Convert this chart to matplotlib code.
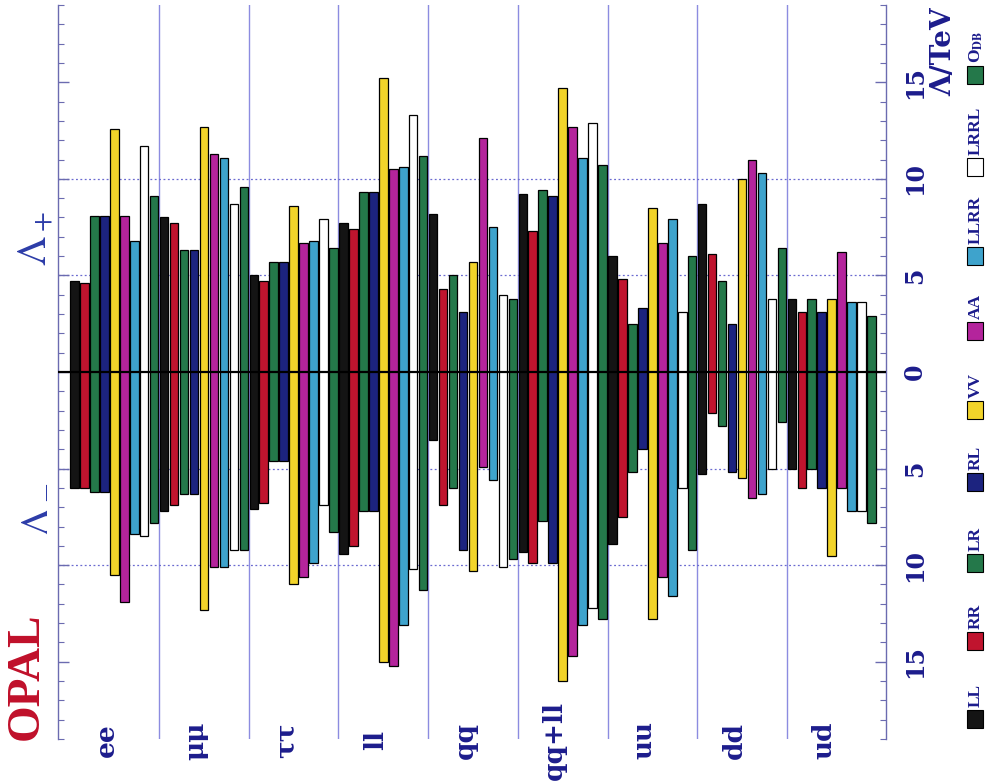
import matplotlib
matplotlib.use("Agg")
import matplotlib.pyplot as plt
import numpy as np
from matplotlib.patches import Rectangle
from matplotlib.ticker import MultipleLocator, FuncFormatter
from matplotlib.transforms import blended_transform_factory

plt.rcParams["mathtext.fontset"] = "stix"

# Channels (one group of bars each) and contact-interaction models
channels = ["ee", "μμ", "ττ", "ll", "qq", "qq+ll", "uu", "dd", "ud"]
models = ["LL", "RR", "LR", "RL", "VV", "AA", "LLRR", "LRRL", "O_DB"]
model_labels = ["LL", "RR", "LR", "RL", "VV", "AA", "LLRR", "LRRL", r"O$_{\mathbf{DB}}$"]

# Lower limits on Lambda+ (TeV), per model, in channel order
plus_LL   = [4.7, 8.0, 5.0, 7.7, 8.2, 9.2, 6.0, 8.7, 3.8]
plus_RR   = [4.6, 7.7, 4.7, 7.4, 4.3, 7.3, 4.8, 6.1, 3.1]
plus_LR   = [8.1, 6.3, 5.7, 9.3, 5.0, 9.4, 2.5, 4.7, 3.8]
plus_RL   = [8.1, 6.3, 5.7, 9.3, 3.1, 9.1, 3.3, 2.5, 3.1]
plus_VV   = [12.6, 12.7, 8.6, 15.2, 5.7, 14.7, 8.5, 10.0, 3.8]
plus_AA   = [8.1, 11.3, 6.7, 10.5, 12.1, 12.7, 6.7, 11.0, 6.2]
plus_LLRR = [6.8, 11.1, 6.8, 10.6, 7.5, 11.1, 7.9, 10.3, 3.6]
plus_LRRL = [11.7, 8.7, 7.9, 13.3, 4.0, 12.9, 3.1, 3.8, 3.6]
plus_ODB  = [9.1, 9.6, 6.4, 11.2, 3.8, 10.7, 6.0, 6.4, 2.9]

# Lower limits on Lambda- (TeV), per model, in channel order
minus_LL   = [6.0, 7.2, 7.1, 9.4, 3.5, 9.3, 8.9, 5.3, 5.0]
minus_RR   = [6.0, 6.9, 6.8, 9.0, 6.9, 9.9, 7.5, 2.1, 6.0]
minus_LR   = [6.2, 6.3, 4.6, 7.2, 6.0, 7.7, 5.2, 2.8, 5.0]
minus_RL   = [6.2, 6.3, 4.6, 7.2, 9.2, 9.9, 4.0, 5.2, 6.0]
minus_VV   = [10.5, 12.3, 11.0, 15.0, 10.3, 16.0, 12.8, 5.5, 9.5]
minus_AA   = [11.9, 10.1, 10.6, 15.2, 4.9, 14.7, 10.6, 6.5, 6.0]
minus_LLRR = [8.4, 10.1, 9.9, 13.1, 5.6, 13.1, 11.6, 6.3, 7.2]
minus_LRRL = [8.5, 9.2, 6.9, 10.2, 10.1, 12.2, 6.0, 5.0, 7.2]
minus_ODB  = [7.8, 9.2, 8.3, 11.3, 9.7, 12.8, 9.2, 2.6, 7.8]

plus_all = [plus_LL, plus_RR, plus_LR, plus_RL, plus_VV, plus_AA, plus_LLRR, plus_LRRL, plus_ODB]
minus_all = [minus_LL, minus_RR, minus_LR, minus_RL, minus_VV, minus_AA, minus_LLRR, minus_LRRL, minus_ODB]

colors = ["#141414", "#c0142e", "#24784a", "#1c237f", "#f2d42a",
          "#b4249c", "#3ea3cc", "#ffffff", "#24784a"]

text_blue = "#1c1c8c"
axis_col = "#6b6bb0"

W, H = 995, 782
fig = plt.figure(figsize=(W / 100, H / 100), dpi=100)


def fx(px):
    return px / W


def fy(py):
    return 1 - py / H


ax = fig.add_axes([fx(58), fy(739), fx(886) - fx(58), fy(5) - fy(739)])

n_ch = len(channels)
n_m = len(models)
ax.set_xlim(-1.15, n_ch * n_m + 0.95)
ax.set_ylim(-19, 19)

for j in range(n_m):
    x = np.arange(n_ch) * n_m + j + 0.5
    p = np.array(plus_all[j])
    m = np.array(minus_all[j])
    ax.bar(x, p + m, bottom=-m, width=0.86, color=colors[j],
           edgecolor="black", linewidth=0.9, zorder=3)

# group separators
for k in range(1, n_ch):
    ax.axvline(k * n_m, color="#8c8ce0", lw=1.0, zorder=1)

# reference lines
for v in (-10, -5, 5, 10):
    ax.axhline(v, color="#6a6ad0", lw=0.9, ls=(0, (1.5, 2)), zorder=1)
ax.axhline(0, color="black", lw=1.6, zorder=4)

# frame and ticks
for s in ("top", "bottom"):
    ax.spines[s].set_visible(False)
for s in ("left", "right"):
    ax.spines[s].set_color(axis_col)
    ax.spines[s].set_linewidth(1.0)

ax.set_xticks([])
ax.yaxis.set_major_locator(MultipleLocator(5))
ax.yaxis.set_minor_locator(MultipleLocator(1))
ax.yaxis.set_major_formatter(FuncFormatter(lambda v, pos: f"{abs(v):.0f}"))
ax.tick_params(axis="y", which="both", direction="in", left=True, right=True,
               labelleft=False, labelright=True, color=axis_col)
ax.tick_params(axis="y", which="major", length=8, width=1.0, pad=12,
               labelsize=17, labelcolor=text_blue, labelrotation=90)
ax.tick_params(axis="y", which="minor", length=4, width=0.8)
for t in ax.get_yticklabels():
    t.set_fontfamily("DejaVu Serif")
    t.set_fontweight("bold")
    t.set_va("center")

# channel names under each group
trans = blended_transform_factory(ax.transData, ax.transAxes)
for k, ch in enumerate(channels):
    ax.text(k * n_m + n_m / 2 - 0.8, -0.002, ch, transform=trans, rotation=90,
            ha="center", va="center", fontsize=19, color=text_blue,
            fontfamily="DejaVu Serif", fontweight="bold", clip_on=False)

# side annotations
fig.text(fx(35), fy(239), r"$\Lambda_+$", rotation=90, ha="center", va="center",
         fontsize=30, color="#2c3ca8")
fig.text(fx(33), fy(510), r"$\Lambda_-$", rotation=90, ha="center", va="center",
         fontsize=30, color="#2c3ca8")
fig.text(fx(27), fy(676), "OPAL", rotation=90, ha="center", va="center",
         fontsize=34, color="#c0102a", fontfamily="Liberation Serif", fontweight="bold")
fig.text(fx(944), fy(52), "Λ/TeV", rotation=90, ha="center", va="center",
         fontsize=20, color=text_blue, fontfamily="DejaVu Serif", fontweight="bold")

# legend: rotated column of swatches and names
swatch_centres = [719, 641, 563, 482, 410, 331, 256, 167, 75]
sw_w, sw_h = 16, 18
for lab, col, yc in zip(model_labels, colors, swatch_centres):
    fig.patches.append(Rectangle((fx(975 - sw_w / 2), fy(yc + sw_h / 2)),
                                 sw_w / W, sw_h / H, transform=fig.transFigure,
                                 facecolor=col, edgecolor="black", lw=0.8))
    fig.text(fx(976), fy(yc - sw_h / 2 - 3), lab, rotation=90, ha="center", va="bottom",
             fontsize=12.5, color=text_blue, fontfamily="Liberation Serif",
             fontweight="bold")

fig.savefig("out.png", dpi=100)
